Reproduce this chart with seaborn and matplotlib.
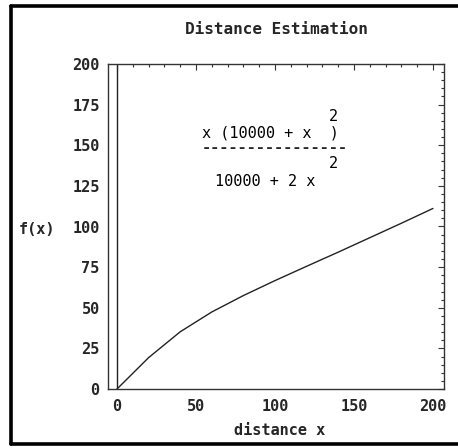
import numpy as np
import pandas as pd
import seaborn as sns
import matplotlib.pyplot as plt
from matplotlib.lines import Line2D

# valores (passo de 20)
dist_x = [0, 20, 40, 60, 80, 100, 120, 140, 160, 180, 200]
f_x = [0.0, 19.3, 35.2, 47.4, 57.5, 66.7, 75.5, 84.2, 93.1, 102.0, 111.1]

titulo = "Distance Estimation"
rotulo_x = "distance x"
rotulo_y = "f(x)"
x_ticks = [0, 50, 100, 150, 200]
y_ticks = [0, 25, 50, 75, 100, 125, 150, 175, 200]

df = pd.DataFrame({"x": dist_x, "f": f_x})

sns.set_style("white")
plt.rcParams["font.family"] = ["DejaVu Sans Mono", "DejaVu Sans"]
plt.rcParams["font.weight"] = "bold"

fig = plt.figure(figsize=(4.58, 4.48), dpi=100)
ax = fig.add_axes([108 / 458, 59 / 448, 336 / 458, 325 / 448])

sns.lineplot(data=df, x="x", y="f", ax=ax, color="#222222", linewidth=1)
ax.axvline(0, color="#222222", linewidth=1)

ax.set_xlim(-5.7, 207)
ax.set_ylim(0, 200)
ax.set_xticks(x_ticks)
ax.set_yticks(y_ticks)
ax.set_xticks(np.arange(0, 201, 10), minor=True)
ax.set_yticks(np.arange(0, 201, 5), minor=True)
ax.tick_params(which="both", direction="in", top=True, right=True,
               color="#333333", width=0.8, labelsize=11)
ax.tick_params(which="major", length=4)
ax.tick_params(which="minor", length=2.5)
ax.tick_params(axis="y", pad=6)
ax.tick_params(axis="x", pad=7)
for s in ax.spines.values():
    s.set_color("#333333")
    s.set_linewidth(1)
ax.set_xlabel("")
ax.set_ylabel("")

fig.text(276 / 458, 1 - 30 / 448, titulo, ha="center", va="center", fontsize=11.5, fontweight="bold")
fig.text(37 / 458, 1 - 229 / 448, rotulo_y, ha="center", va="center", fontsize=11, fontweight="bold")
fig.text(280 / 458, 1 - 430 / 448, rotulo_x, ha="center", va="center", fontsize=11, fontweight="bold")

# formula
fk = dict(fontsize=11, fontweight="normal", va="center", ha="left", color="black")
ax.text(54, 157.5, "x (10000 + x  )", **fk)
ax.text(134, 167.5, "2", **fk)
ax.text(53.5, 148.5, "----------------", fontsize=11, fontweight="bold", va="center", ha="left")
ax.text(62, 128, "10000 + 2 x", **fk)
ax.text(134, 138.5, "2", **fk)

# moldura externa (sem lado direito)
for xs, ys in [([10.5, 10.5], [6.5, 443.5]), ([10.5, 460], [6.5, 6.5]), ([10.5, 460], [443.5, 443.5])]:
    fig.add_artist(Line2D([x / 458 for x in xs], [1 - y / 448 for y in ys],
                          transform=fig.transFigure, color="black", linewidth=2.6))

fig.savefig("out.png", dpi=100)
